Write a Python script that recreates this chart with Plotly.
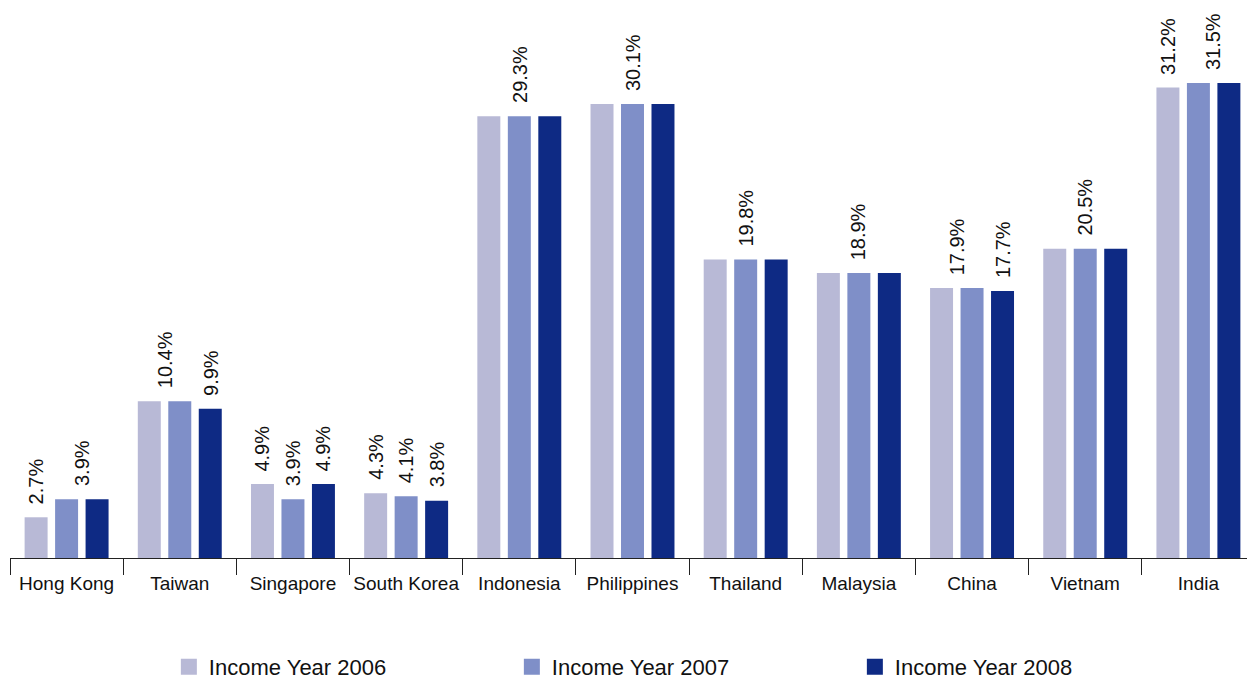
import plotly.graph_objects as go

countries = ["Hong Kong", "Taiwan", "Singapore", "South Korea", "Indonesia",
             "Philippines", "Thailand", "Malaysia", "China", "Vietnam", "India"]
series_names = ["Income Year 2006", "Income Year 2007", "Income Year 2008"]
y2006 = [2.7, 10.4, 4.9, 4.3, 29.3, 30.1, 19.8, 18.9, 17.9, 20.5, 31.2]
y2007 = [3.9, 10.4, 3.9, 4.1, 29.3, 30.1, 19.8, 18.9, 17.9, 20.5, 31.5]
y2008 = [3.9, 9.9, 4.9, 3.8, 29.3, 30.1, 19.8, 18.9, 17.7, 20.5, 31.5]
series = [y2006, y2007, y2008]
colors = ["#b8b9d6", "#7f8fc8", "#0e2a84"]

FONT = "Liberation Sans, Arial, sans-serif"
BARGAP = 0.192
BARGROUPGAP = 0.246
slot = (1 - BARGAP) / len(series)

fig = go.Figure()
for name, vals, col in zip(series_names, series, colors):
    fig.add_trace(go.Bar(x=countries, y=vals, name=name, marker_color=col,
                         marker_line_width=0, showlegend=False))
    # legend proxy with larger square symbol
    fig.add_trace(go.Scatter(x=[None], y=[None], mode="markers", name=name,
                             marker=dict(symbol="square", size=22, color=col)))

# data labels: merge consecutive equal values within a group
annotations = []
for ci in range(len(countries)):
    vals = [s[ci] for s in series]
    k = 0
    while k < len(vals):
        j = k
        while j + 1 < len(vals) and vals[j + 1] == vals[k]:
            j += 1
        off = ((k + j) / 2 - 1) * slot
        annotations.append(dict(
            x=ci + off, y=vals[k], xref="x", yref="y",
            text=f"{vals[k]:.1f}%", showarrow=False, textangle=-90,
            xanchor="center", yanchor="bottom", yshift=11,
            font=dict(family=FONT, size=20, color="#111111")))
        k = j + 1

fig.update_layout(
    width=1247, height=672,
    margin=dict(l=2, r=0, t=0, b=122, autoexpand=False),
    paper_bgcolor="white", plot_bgcolor="white",
    barmode="group", bargap=BARGAP, bargroupgap=BARGROUPGAP,
    font=dict(family=FONT, size=18, color="#111111"),
    annotations=annotations,
    showlegend=True,
    legend=dict(orientation="h", x=0.1276, xanchor="left", y=-0.198,
                yanchor="middle", entrywidth=298, entrywidthmode="pixels",
                font=dict(family=FONT, size=22, color="#111111")),
    xaxis=dict(type="category", showline=True, linecolor="#222222", linewidth=1,
               ticks="outside", tickson="boundaries", ticklen=16,
               tickcolor="#222222", tickwidth=1, showgrid=False,
               ticklabelstandoff=8, tickangle=0,
               tickfont=dict(family=FONT, size=19, color="#111111")),
    yaxis=dict(range=[0, 36.47], visible=False, showgrid=False, zeroline=False),
)

fig.write_html("out.html")
